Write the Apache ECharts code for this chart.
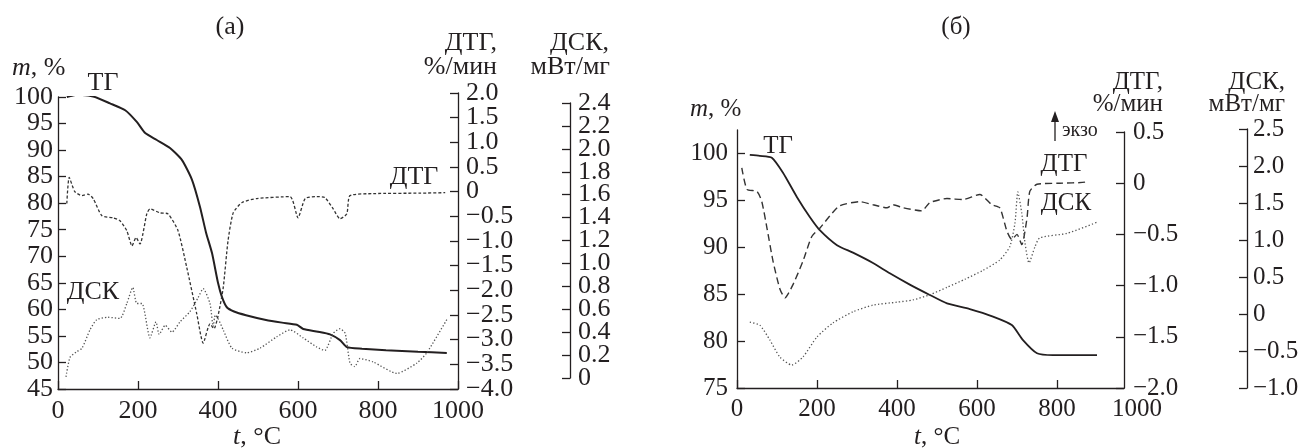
<!DOCTYPE html>
<html>
<head>
<meta charset="utf-8">
<script src="https://cdn.jsdelivr.net/npm/echarts@6/dist/echarts.min.js"></script>
<style>
  html, body { margin: 0; padding: 0; background: #fff; }
  #chart { width: 1308px; height: 448px; }
</style>
</head>
<body>
<div id="chart"></div>
<script>
// panel (a)
var tgTa = [22, 47, 88, 130, 168, 197, 218, 247, 280, 310, 335, 355, 370, 385, 400, 410, 422, 440, 470, 520, 560, 597, 613, 650, 680, 705, 722, 760, 820, 900, 972];
var tgMa = [100, 100.4, 100.1, 98.8, 97.5, 95.3, 93.2, 91.9, 90.4, 88.1, 84.4, 79.3, 74.5, 70.6, 65, 62.3, 60.4, 59.6, 58.9, 58.0, 57.5, 57.1, 56.3, 55.8, 55.3, 54.2, 52.9, 52.6, 52.3, 52.0, 51.8];

var dtgTa = [22, 28, 42, 60, 75, 88, 110, 138, 155, 172, 185, 195, 205, 222, 230, 255, 275, 300, 322, 347, 363, 380, 390, 400, 413, 425, 438, 460, 497, 580, 600, 618, 647, 667, 688, 705, 722, 730, 788, 905, 968];
var dtgVa = [-0.24, 0.29, 0.0, -0.08, -0.05, -0.14, -0.49, -0.53, -0.59, -0.79, -1.10, -0.93, -1.06, -0.45, -0.35, -0.43, -0.45, -0.79, -1.54, -2.48, -3.07, -2.68, -2.78, -2.52, -1.95, -1.0, -0.43, -0.22, -0.14, -0.10, -0.53, -0.14, -0.10, -0.12, -0.35, -0.55, -0.45, -0.08, -0.04, -0.03, -0.02];

var dscTa = [20, 30, 47, 60, 80, 97, 125, 155, 172, 187, 197, 210, 230, 245, 253, 268, 285, 305, 330, 350, 363, 380, 388, 393, 400, 413, 435, 472, 505, 547, 580, 613, 647, 667, 688, 705, 718, 730, 742, 755, 788, 847, 897, 922, 972];
var dscVa = [0.01, 0.18, 0.23, 0.26, 0.42, 0.51, 0.53, 0.52, 0.65, 0.79, 0.65, 0.65, 0.35, 0.49, 0.38, 0.46, 0.40, 0.49, 0.58, 0.70, 0.78, 0.65, 0.45, 0.55, 0.52, 0.42, 0.26, 0.22, 0.26, 0.36, 0.42, 0.35, 0.27, 0.24, 0.39, 0.43, 0.39, 0.13, 0.10, 0.17, 0.14, 0.04, 0.13, 0.22, 0.51];

// panel (б)
var tgTb = [32, 57, 87, 115, 150, 182, 207, 250, 290, 340, 382, 432, 482, 525, 582, 640, 687, 715, 750, 790, 900];
var tgMb = [99.8, 99.7, 99.5, 97.9, 95.3, 93.2, 91.8, 90.2, 89.4, 88.3, 87.2, 86.0, 84.9, 84.0, 83.4, 82.6, 81.7, 80.1, 78.7, 78.5, 78.5];

var dtgTb = [12, 25, 50, 62, 75, 90, 107, 120, 140, 165, 187, 207, 232, 257, 307, 340, 375, 390, 415, 462, 482, 525, 565, 607, 637, 657, 675, 687, 700, 712, 725, 732, 750, 807, 870, 877];
var dtgVb = [0.15, -0.06, -0.08, -0.18, -0.44, -0.76, -1.03, -1.12, -0.99, -0.76, -0.52, -0.44, -0.32, -0.22, -0.18, -0.21, -0.24, -0.21, -0.24, -0.27, -0.19, -0.15, -0.16, -0.11, -0.21, -0.24, -0.47, -0.55, -0.50, -0.60, -0.34, -0.08, -0.01, 0.0, 0.01, 0.04];

var dscTb = [32, 57, 82, 107, 137, 165, 200, 240, 290, 340, 400, 440, 482, 525, 570, 615, 657, 682, 695, 702, 712, 720, 730, 745, 757, 825, 900];
var dscVb = [-0.11, -0.15, -0.35, -0.58, -0.69, -0.58, -0.31, -0.12, 0.03, 0.12, 0.16, 0.19, 0.26, 0.36, 0.47, 0.59, 0.73, 0.91, 1.23, 1.65, 1.36, 0.96, 0.69, 0.91, 1.03, 1.09, 1.24];

// tick labels
var xTicks = [0, 200, 400, 600, 800, 1000];
var tgTicksA = [45, 50, 55, 60, 65, 70, 75, 80, 85, 90, 95, 100];
var dtgTicksA = [-4, -3.5, -3, -2.5, -2, -1.5, -1, -0.5, 0, 0.5, 1, 1.5, 2];
var dscTicksA = [0, 0.2, 0.4, 0.6, 0.8, 1.0, 1.2, 1.4, 1.6, 1.8, 2.0, 2.2, 2.4];
var tgTicksB = [75, 80, 85, 90, 95, 100];
var dtgTicksB = [-2, -1.5, -1, -0.5, 0, 0.5];
var dscTicksB = [-1, -0.5, 0, 0.5, 1, 1.5, 2, 2.5];

var ink = '#231f20';
var serif = '"Liberation Serif", "Times New Roman", serif';
var fsA = 26, fsB = 25;

function pairs(xs, ys) {
    var out = [];
    for (var i = 0; i < xs.length; i++) out.push([xs[i], ys[i]]);
    return out;
}
function every(arr, start) {
    return arr.filter(function (v, i) { return i % 2 === start; });
}
function dec1(v) {
    if (v === 0) return '0';
    var s = Math.abs(v).toFixed(1);
    return v < 0 ? '\u2212' + s : s;
}
function plain(v) { return String(v); }

function xAxisVisible(grid, max, tickVals, fs) {
    return {
        type: 'value', gridIndex: grid, min: 0, max: max,
        axisLine: { show: true, onZero: false, lineStyle: { color: ink, width: 1.3 } },
        axisTick: { show: true, inside: true, length: 8, customValues: tickVals, lineStyle: { color: ink, width: 1.3 } },
        axisLabel: { show: true, customValues: xTicks, formatter: plain, showMinLabel: true, showMaxLabel: true,
                     margin: 9, color: ink, fontFamily: serif, fontSize: fs },
        splitLine: { show: false }
    };
}
function xAxisHidden(grid, max, line) {
    return {
        type: 'value', gridIndex: grid, min: 0, max: max,
        axisLine: { show: !!line, onZero: false, lineStyle: { color: ink, width: 1.3 } },
        axisTick: { show: false }, axisLabel: { show: false }, splitLine: { show: false }
    };
}
function yAxis(grid, pos, offset, min, max, ticks, labels, fmt, margin, fs) {
    return {
        type: 'value', gridIndex: grid, position: pos, offset: offset, min: min, max: max,
        axisLine: { show: true, onZero: false, lineStyle: { color: ink, width: 1.3 } },
        axisTick: { show: true, inside: true, length: 8, customValues: ticks, lineStyle: { color: ink, width: 1.3 } },
        axisLabel: { show: true, customValues: labels, formatter: fmt, showMinLabel: true, showMaxLabel: true,
                     margin: margin, color: ink, fontFamily: serif, fontSize: fs },
        splitLine: { show: false }
    };
}
// second label-only axis for dense scales, so echarts does not drop crowded labels
function yLabelsOnly(grid, pos, offset, min, max, labels, fmt, margin, fs) {
    var a = yAxis(grid, pos, offset, min, max, [], labels, fmt, margin, fs);
    a.axisLine.show = false;
    a.axisTick.show = false;
    return a;
}
function line(xi, data, style) {
    return {
        type: 'line', xAxisIndex: xi, yAxisIndex: xi, data: data, showSymbol: false, smooth: 0.2,
        lineStyle: style, silent: true, animation: false
    };
}
function txt(x, y, s, align, size, rich) {
    var st = { text: s, x: 0, y: 0, fill: ink, font: size + 'px ' + serif, align: align || 'center', verticalAlign: 'middle' };
    if (rich) st.rich = rich;
    return { type: 'text', x: x, y: y, style: st, silent: true };
}
function italic(fs) {
    return { i: { fontStyle: 'italic', fontSize: fs, fontFamily: serif, fill: ink } };
}

var myChart = echarts.init(document.getElementById('chart'), null, { renderer: 'canvas' });

var tgB = xAxisVisible(3, 1000, [0, 200, 400, 600, 800], fsB);
tgB.axisLine.show = false;

var option = {
    animation: false,
    backgroundColor: '#fff',
    grid: [
        { left: 58, top: 97, width: 400, height: 292, outerBoundsMode: 'none' },
        { left: 58, top: 93, width: 400, height: 296, outerBoundsMode: 'none' },
        { left: 58, top: 103, width: 400, height: 275, outerBoundsMode: 'none' },
        { left: 737, top: 130, width: 400, height: 258, outerBoundsMode: 'none' },
        { left: 737, top: 132, width: 387, height: 256, outerBoundsMode: 'none' },
        { left: 737, top: 129, width: 387, height: 259, outerBoundsMode: 'none' }
    ],
    xAxis: [
        xAxisVisible(0, 1000, xTicks, fsA),
        xAxisHidden(1, 1000, false),
        xAxisHidden(2, 1000, false),
        tgB,
        xAxisHidden(4, 967.5, true),
        xAxisHidden(5, 967.5, false)
    ],
    yAxis: [
        yAxis(0, 'left', 0, 45, 100, tgTicksA, tgTicksA, plain, 5, fsA),
        yAxis(1, 'right', 0, -4, 2, dtgTicksA, every(dtgTicksA, 0), dec1, 8, fsA),
        yAxis(2, 'right', 112, 0, 2.4, dscTicksA, every(dscTicksA, 0), dec1, 8, fsA),
        yAxis(3, 'left', 0, 75, 102.45, tgTicksB, tgTicksB, plain, 9, fsB),
        yAxis(4, 'right', 0, -2, 0.5, dtgTicksB, dtgTicksB, dec1, 9, fsB),
        yAxis(5, 'right', 123, -1, 2.5, dscTicksB, dscTicksB, dec1, 6, fsB),
        yLabelsOnly(1, 'right', 0, -4, 2, every(dtgTicksA, 1), dec1, 8, fsA),
        yLabelsOnly(2, 'right', 112, 0, 2.4, every(dscTicksA, 1), dec1, 8, fsA)
    ],
    series: [
        line(0, pairs(tgTa, tgMa), { color: ink, width: 2 }),
        line(1, pairs(dtgTa, dtgVa), { color: '#333', width: 1.3, type: [3, 2] }),
        line(2, pairs(dscTa, dscVa), { color: '#555', width: 1.3, type: [1.3, 2] }),
        line(3, pairs(tgTb, tgMb), { color: ink, width: 1.8 }),
        line(4, pairs(dtgTb, dtgVb), { color: '#333', width: 1.4, type: [7, 4] }),
        line(5, pairs(dscTb, dscVb), { color: '#555', width: 1.3, type: [1.3, 2.2] })
    ],
    graphic: [
        txt(230, 27, '(а)', 'center', fsA),
        txt(12, 68, '{i|m}, %', 'left', fsA, italic(fsA)),
        txt(103, 83, 'ТГ', 'center', fsA),
        txt(497, 43, 'ДТГ,', 'right', fsA),
        txt(497, 67, '%/мин', 'right', fsA),
        txt(609, 43, 'ДСК,', 'right', fsA),
        txt(610, 67, 'мВт/мг', 'right', fsA),
        txt(414, 177, 'ДТГ', 'center', fsA),
        txt(93, 292, 'ДСК', 'center', fsA),
        txt(257, 437, '{i|t}, °C', 'center', fsA, italic(fsA)),

        txt(956, 27, '(б)', 'center', fsB),
        txt(690, 109, '{i|m}, %', 'left', fsB, italic(fsB)),
        txt(778, 146, 'ТГ', 'center', fsB),
        txt(1163, 82, 'ДТГ,', 'right', fsB),
        txt(1163, 104, '%/мин', 'right', fsB),
        txt(1285, 82, 'ДСК,', 'right', fsB),
        txt(1285, 104, 'мВт/мг', 'right', fsB),
        txt(1062, 131, 'экзо', 'left', 20),
        { type: 'line', shape: { x1: 1055, y1: 141, x2: 1055, y2: 120 }, style: { stroke: ink, lineWidth: 1.3 }, silent: true },
        { type: 'polygon', shape: { points: [[1051, 122], [1059, 122], [1055, 111]] }, style: { fill: ink }, silent: true },
        txt(1064, 164, 'ДТГ', 'center', fsB),
        txt(1066, 203, 'ДСК', 'center', fsB),
        txt(937, 437, '{i|t}, °C', 'center', fsB, italic(fsB))
    ]
};

myChart.setOption(option);
window.addEventListener('resize', function () {
    myChart.resize();
});
</script>
</body>
</html>
